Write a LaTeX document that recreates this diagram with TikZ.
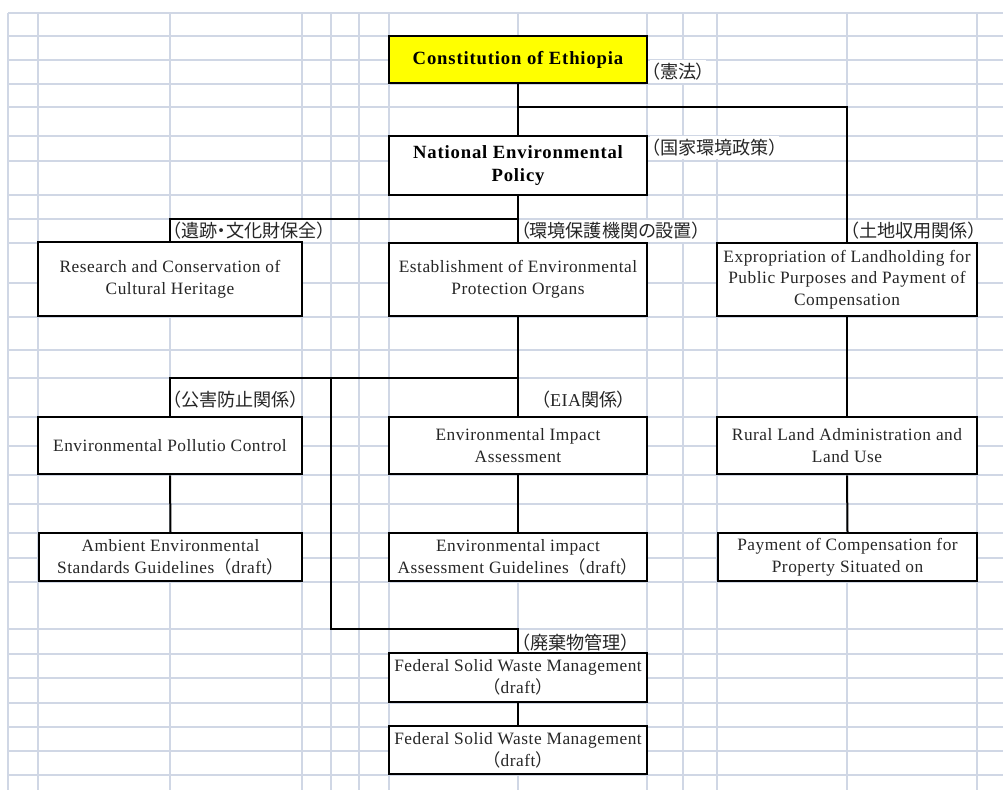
\documentclass[tikz,border=0pt]{standalone}
\usepackage{fontspec}
\setmainfont{Liberation Serif}[LetterSpace=3]
\newfontfamily\headfont{Liberation Serif}[LetterSpace=4.5]
\newfontfamily\jpfont{Noto Sans CJK JP}[RawFeature={+palt}]
\newfontfamily\jpfull{Noto Sans CJK JP}
% full-width brackets taken from the Japanese family
\newcommand{\fwopen}{{\jpfull （}}
\newcommand{\fwclose}{{\jpfull ）}}
\definecolor{gridc}{HTML}{D0D7E5}
\definecolor{lawyellow}{HTML}{FFFF00}
\definecolor{inkc}{HTML}{262626}
\begin{document}
\begin{tikzpicture}[x=0.75pt,y=-0.75pt,
  gridline/.style={gridc, line width=1.2pt},
  link/.style={line width=1.5pt, black},
  sz/.style 2 args={minimum width=#1*0.75pt, minimum height=#2*0.75pt},
  thickbox/.style={draw, line width=2.2pt, fill=white, align=center, inner sep=0pt,
    text=inkc, font=\fontsize{13}{16.3}\selectfont},
  thinbox/.style={thickbox, line width=1.5pt},
  headbox/.style={thickbox, font=\headfont\bfseries\fontsize{14}{17.5}\selectfont, text=black},
  tag/.style={anchor=west, fill=white, inner xsep=0.5pt, inner ysep=0pt,
    minimum height=17pt, text=inkc, font=\jpfont\fontsize{13.6}{15}\selectfont},
]
\useasboundingbox (0,0) rectangle (1003,790);

% spreadsheet grid
\foreach \x in {8,38,170,302,331,359,389,518,647,683,717,847,977}
  \draw[gridline] (\x,13) -- (\x,790);
\foreach \y in {13,36,60,84,107,136,161,195,219,243,283,317,350,378,417,446,475,504,533,558,582,629,654,678,703,727,751,775}
  \draw[gridline] (8,\y) -- (1003,\y);

% Japanese captions
\node[tag] (tConst) at (650,71.5) {（憲法）};
\node[tag] (tPolicy) at (650,147.5) {（国家環境政策）};
\node[tag] (tHeritage) at (171,231) {（遺跡・文化財保全）};
\node[tag] (tOrgans) at (519.5,231) {（環境保護機関の設置）};
\node[tag] (tLand) at (849,231) {（土地収用関係）};
\node[tag] (tPollution) at (171,400) {（公害防止関係）};
\node[tag] (tEia) at (540,400) {（{\rmfamily EIA}関係）};
\node[tag] (tWaste) at (520,643) {（廃棄物管理）};

% boxes
\node[headbox, fill=lawyellow, sz={258}{47}] (const) at (518,59.5) {Constitution of Ethiopia};
\node[headbox, sz={258}{59}] (policy) at (518,165.5) {National Environmental\\Policy};

\node[thickbox, sz={264}{74}] (heritage) at (170,279) {Research and Conservation of\\Cultural Heritage};
\node[thickbox, sz={258}{73}] (organs) at (518,279.5) {Establishment of Environmental\\Protection Organs};
\node[thickbox, sz={260}{73}] (expro) at (847,279.5) {Expropriation of Landholding for\\Public Purposes and Payment of\\Compensation};

\node[thickbox, sz={264}{57}] (pollution) at (170,445.5) {Environmental Pollutio Control};
\node[thickbox, sz={258}{57}] (eia) at (518,445.5) {Environmental Impact\\Assessment};
\node[thickbox, sz={260}{57}] (rural) at (847,445.5) {Rural Land Administration and\\Land Use};

\node[thinbox, sz={263}{48}] (ambient) at (170.5,557) {Ambient Environmental\\Standards Guidelines\fwopen draft\fwclose};
\node[thinbox, sz={258}{48}] (eiaguide) at (518,557) {Environmental impact\\Assessment Guidelines\fwopen draft\fwclose};
\node[thinbox, sz={259}{48}] (payment) at (847.5,557) {Payment of Compensation for\\Property Situated on};

\node[thickbox, sz={258}{49}] (waste1) at (518,677.5) {Federal Solid Waste Management\\\fwopen draft\fwclose};
\node[thinbox, sz={258}{48}] (waste2) at (518,750) {Federal Solid Waste Management\\\fwopen draft\fwclose};

% junction points
\coordinate (jConst) at (518,107);
\coordinate (jPolicy) at (518,219);
\coordinate (jOrgans) at (518,378);
\coordinate (jDrop) at (331,378);
\coordinate (jWaste) at (518,629);

% connectors
\draw[link] (const.south) -- (policy.north);
\draw[link] (jConst) -| (expro.north);
\draw[link] (policy.south) -- (organs.north);
\draw[link] (jPolicy) -| (heritage.north);
\draw[link] (organs.south) -- (eia.north);
\draw[link] (jOrgans) -| (pollution.north);
\draw[link] (jDrop) |- (jWaste) -- (waste1.north);
\draw[link] (pollution.south) -- (ambient.north);
\draw[link] (eia.south) -- (eiaguide.north);
\draw[link] (expro.south) -- (rural.north);
\draw[link] (rural.south) -- (payment.north);
\draw[link] (waste1.south) -- (waste2.north);
\end{tikzpicture}
\end{document}
